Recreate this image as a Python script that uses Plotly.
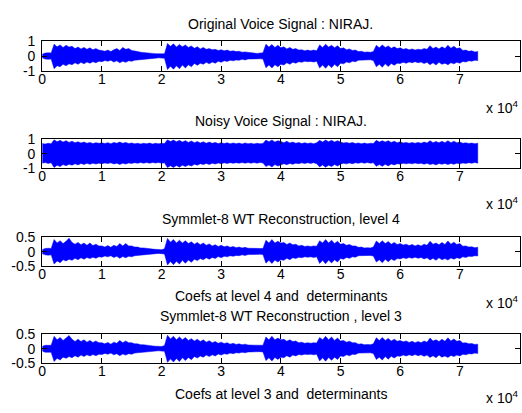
import plotly.graph_objects as go

# Envelope readings of each voice signal (upper / lower peak amplitude),
# taken every 500 samples from sample 0 to sample 73000.
ENV_STEP = 500

ORIG_HI = [
    0.12, 0.2, 0.22, 0.2, 0.8, 0.62, 0.75, 0.58, 0.72, 0.6,
    0.66, 0.5, 0.6, 0.48, 0.58, 0.45, 0.55, 0.42, 0.5, 0.4,
    0.38, 0.32, 0.4, 0.3, 0.42, 0.5, 0.38, 0.58, 0.45, 0.5,
    0.38, 0.32, 0.3, 0.26, 0.25, 0.22, 0.2, 0.18, 0.16, 0.14,
    0.13, 0.15, 0.85, 0.65, 0.82, 0.6, 0.78, 0.62, 0.75, 0.58,
    0.68, 0.52, 0.62, 0.48, 0.58, 0.45, 0.5, 0.42, 0.45, 0.38,
    0.42, 0.35, 0.4, 0.32, 0.35, 0.3, 0.32, 0.26, 0.28, 0.24,
    0.22, 0.2, 0.18, 0.2, 0.22, 0.8, 0.6, 0.78, 0.58, 0.72,
    0.55, 0.62, 0.48, 0.58, 0.45, 0.5, 0.4, 0.42, 0.36, 0.4,
    0.35, 0.4, 0.36, 0.75, 0.58, 0.8, 0.6, 0.72, 0.55, 0.7,
    0.5, 0.55, 0.42, 0.48, 0.38, 0.4, 0.3, 0.32, 0.26, 0.28,
    0.25, 0.3, 0.72, 0.55, 0.75, 0.58, 0.68, 0.52, 0.62, 0.5,
    0.55, 0.45, 0.5, 0.42, 0.48, 0.4, 0.46, 0.42, 0.5, 0.45,
    0.7, 0.5, 0.6, 0.48, 0.62, 0.5, 0.72, 0.52, 0.65, 0.5,
    0.55, 0.38, 0.4, 0.32, 0.35, 0.28, 0.3,
]
ORIG_LO = [
    -0.12, -0.2, -0.22, -0.2, -0.85, -0.65, -0.72, -0.55, -0.65, -0.52,
    -0.58, -0.45, -0.55, -0.42, -0.52, -0.4, -0.48, -0.38, -0.45, -0.35,
    -0.38, -0.3, -0.35, -0.28, -0.4, -0.32, -0.45, -0.35, -0.42, -0.32,
    -0.35, -0.28, -0.3, -0.24, -0.22, -0.2, -0.18, -0.16, -0.14, -0.12,
    -0.12, -0.15, -0.9, -0.68, -0.88, -0.65, -0.85, -0.6, -0.8, -0.58,
    -0.72, -0.5, -0.62, -0.48, -0.55, -0.42, -0.52, -0.4, -0.48, -0.35,
    -0.42, -0.32, -0.36, -0.28, -0.32, -0.26, -0.28, -0.22, -0.26, -0.2,
    -0.2, -0.18, -0.2, -0.18, -0.2, -0.78, -0.6, -0.8, -0.58, -0.72,
    -0.55, -0.6, -0.45, -0.55, -0.42, -0.48, -0.38, -0.42, -0.35, -0.38,
    -0.36, -0.4, -0.35, -0.8, -0.6, -0.82, -0.58, -0.78, -0.55, -0.72,
    -0.48, -0.52, -0.4, -0.45, -0.35, -0.38, -0.28, -0.3, -0.25, -0.26,
    -0.25, -0.3, -0.72, -0.55, -0.75, -0.52, -0.7, -0.5, -0.62, -0.48,
    -0.5, -0.42, -0.48, -0.4, -0.45, -0.38, -0.45, -0.4, -0.5, -0.42,
    -0.58, -0.45, -0.6, -0.42, -0.55, -0.48, -0.58, -0.45, -0.52, -0.42,
    -0.48, -0.36, -0.4, -0.32, -0.34, -0.28, -0.3,
]

NOISY_HI = [
    0.7, 0.66, 0.72, 0.68, 0.96, 0.82, 0.92, 0.8, 0.9, 0.78,
    0.86, 0.75, 0.82, 0.74, 0.8, 0.72, 0.78, 0.7, 0.76, 0.72,
    0.75, 0.7, 0.76, 0.69, 0.78, 0.72, 0.8, 0.72, 0.78, 0.7,
    0.74, 0.68, 0.72, 0.67, 0.72, 0.68, 0.73, 0.67, 0.72, 0.68,
    0.72, 0.7, 0.96, 0.84, 0.95, 0.82, 0.92, 0.8, 0.9, 0.78,
    0.88, 0.76, 0.84, 0.74, 0.82, 0.72, 0.8, 0.72, 0.78, 0.7,
    0.76, 0.7, 0.75, 0.68, 0.74, 0.69, 0.73, 0.67, 0.74, 0.68,
    0.72, 0.67, 0.72, 0.68, 0.71, 0.94, 0.82, 0.95, 0.8, 0.9,
    0.84, 0.76, 0.85, 0.74, 0.8, 0.72, 0.77, 0.7, 0.75, 0.7,
    0.74, 0.69, 0.75, 0.92, 0.8, 0.94, 0.82, 0.93, 0.8, 0.9,
    0.8, 0.74, 0.78, 0.72, 0.77, 0.7, 0.74, 0.68, 0.73, 0.68,
    0.72, 0.7, 0.92, 0.8, 0.9, 0.8, 0.9, 0.78, 0.86, 0.76,
    0.82, 0.74, 0.78, 0.72, 0.77, 0.72, 0.78, 0.72, 0.8, 0.74,
    0.9, 0.76, 0.84, 0.75, 0.85, 0.76, 0.9, 0.76, 0.86, 0.75,
    0.8, 0.72, 0.75, 0.7, 0.73, 0.69, 0.72,
]
NOISY_LO = [
    -0.66, -0.62, -0.68, -0.63, -0.96, -0.8, -0.9, -0.76, -0.84, -0.74,
    -0.8, -0.7, -0.78, -0.68, -0.75, -0.67, -0.74, -0.66, -0.72, -0.66,
    -0.7, -0.65, -0.69, -0.64, -0.72, -0.66, -0.75, -0.66, -0.72, -0.65,
    -0.68, -0.63, -0.67, -0.62, -0.66, -0.62, -0.66, -0.62, -0.65, -0.62,
    -0.66, -0.64, -0.97, -0.84, -0.97, -0.82, -0.94, -0.8, -0.9, -0.78,
    -0.86, -0.74, -0.8, -0.7, -0.76, -0.68, -0.75, -0.67, -0.72, -0.65,
    -0.7, -0.64, -0.68, -0.63, -0.67, -0.63, -0.66, -0.62, -0.66, -0.62,
    -0.66, -0.62, -0.66, -0.62, -0.65, -0.9, -0.78, -0.92, -0.76, -0.86,
    -0.78, -0.7, -0.77, -0.68, -0.74, -0.66, -0.7, -0.64, -0.69, -0.63,
    -0.68, -0.63, -0.7, -0.92, -0.78, -0.94, -0.8, -0.9, -0.76, -0.86,
    -0.73, -0.67, -0.71, -0.65, -0.7, -0.64, -0.67, -0.62, -0.66, -0.62,
    -0.66, -0.63, -0.88, -0.76, -0.88, -0.74, -0.85, -0.72, -0.78, -0.7,
    -0.73, -0.67, -0.71, -0.66, -0.71, -0.65, -0.7, -0.66, -0.73, -0.67,
    -0.76, -0.7, -0.78, -0.68, -0.74, -0.68, -0.76, -0.68, -0.74, -0.66,
    -0.71, -0.65, -0.68, -0.63, -0.67, -0.62, -0.66,
]

REC4_HI = [
    0.07, 0.11, 0.12, 0.11, 0.42, 0.3, 0.38, 0.28, 0.36, 0.47,
    0.32, 0.26, 0.32, 0.24, 0.3, 0.22, 0.3, 0.21, 0.26, 0.2,
    0.2, 0.16, 0.21, 0.15, 0.22, 0.18, 0.28, 0.2, 0.28, 0.2,
    0.2, 0.16, 0.16, 0.13, 0.13, 0.11, 0.1, 0.09, 0.08, 0.07,
    0.07, 0.1, 0.46, 0.33, 0.42, 0.3, 0.4, 0.3, 0.38, 0.28,
    0.34, 0.26, 0.32, 0.24, 0.3, 0.22, 0.27, 0.2, 0.24, 0.18,
    0.22, 0.17, 0.2, 0.15, 0.18, 0.14, 0.16, 0.13, 0.15, 0.12,
    0.12, 0.1, 0.1, 0.1, 0.11, 0.4, 0.3, 0.42, 0.3, 0.36,
    0.3, 0.32, 0.25, 0.3, 0.24, 0.26, 0.2, 0.22, 0.18, 0.2,
    0.18, 0.2, 0.19, 0.38, 0.3, 0.42, 0.3, 0.4, 0.28, 0.36,
    0.26, 0.28, 0.22, 0.25, 0.2, 0.2, 0.15, 0.16, 0.13, 0.14,
    0.13, 0.16, 0.37, 0.28, 0.38, 0.28, 0.35, 0.26, 0.32, 0.25,
    0.28, 0.23, 0.26, 0.21, 0.25, 0.2, 0.24, 0.2, 0.26, 0.22,
    0.36, 0.26, 0.3, 0.24, 0.32, 0.25, 0.37, 0.26, 0.33, 0.25,
    0.28, 0.19, 0.2, 0.16, 0.17, 0.14, 0.15,
]
REC4_LO = [
    -0.07, -0.11, -0.12, -0.11, -0.43, -0.32, -0.38, -0.28, -0.32, -0.26,
    -0.3, -0.23, -0.28, -0.21, -0.26, -0.2, -0.24, -0.19, -0.23, -0.18,
    -0.19, -0.15, -0.18, -0.14, -0.2, -0.16, -0.23, -0.17, -0.21, -0.16,
    -0.18, -0.14, -0.15, -0.12, -0.11, -0.1, -0.09, -0.08, -0.07, -0.06,
    -0.06, -0.08, -0.46, -0.34, -0.45, -0.33, -0.43, -0.3, -0.4, -0.29,
    -0.37, -0.26, -0.31, -0.24, -0.28, -0.21, -0.26, -0.2, -0.24, -0.17,
    -0.21, -0.16, -0.18, -0.14, -0.16, -0.13, -0.14, -0.11, -0.13, -0.1,
    -0.1, -0.09, -0.1, -0.09, -0.1, -0.4, -0.3, -0.41, -0.29, -0.36,
    -0.28, -0.3, -0.23, -0.28, -0.21, -0.24, -0.19, -0.21, -0.18, -0.19,
    -0.18, -0.2, -0.18, -0.41, -0.3, -0.42, -0.29, -0.39, -0.28, -0.36,
    -0.24, -0.26, -0.2, -0.23, -0.18, -0.19, -0.14, -0.15, -0.13, -0.13,
    -0.13, -0.15, -0.36, -0.28, -0.38, -0.26, -0.35, -0.25, -0.31, -0.24,
    -0.25, -0.21, -0.24, -0.2, -0.23, -0.19, -0.23, -0.2, -0.25, -0.21,
    -0.29, -0.23, -0.3, -0.21, -0.28, -0.24, -0.29, -0.22, -0.26, -0.21,
    -0.24, -0.18, -0.2, -0.16, -0.17, -0.14, -0.15,
]

REC3_HI = [
    0.08, 0.12, 0.12, 0.12, 0.43, 0.31, 0.39, 0.29, 0.37, 0.46,
    0.33, 0.25, 0.33, 0.25, 0.31, 0.23, 0.29, 0.22, 0.27, 0.21,
    0.21, 0.17, 0.22, 0.16, 0.23, 0.19, 0.29, 0.21, 0.27, 0.21,
    0.21, 0.17, 0.17, 0.14, 0.14, 0.12, 0.11, 0.1, 0.09, 0.08,
    0.08, 0.11, 0.47, 0.34, 0.43, 0.31, 0.41, 0.31, 0.39, 0.29,
    0.35, 0.27, 0.33, 0.25, 0.31, 0.23, 0.28, 0.21, 0.25, 0.19,
    0.23, 0.18, 0.21, 0.16, 0.19, 0.15, 0.17, 0.14, 0.16, 0.13,
    0.13, 0.11, 0.11, 0.11, 0.12, 0.41, 0.31, 0.43, 0.31, 0.37,
    0.31, 0.33, 0.26, 0.31, 0.25, 0.27, 0.21, 0.23, 0.19, 0.21,
    0.19, 0.21, 0.2, 0.39, 0.31, 0.43, 0.31, 0.41, 0.29, 0.37,
    0.27, 0.29, 0.23, 0.26, 0.21, 0.21, 0.16, 0.17, 0.14, 0.15,
    0.14, 0.17, 0.38, 0.29, 0.39, 0.29, 0.36, 0.27, 0.33, 0.26,
    0.29, 0.24, 0.27, 0.22, 0.26, 0.21, 0.25, 0.21, 0.27, 0.23,
    0.37, 0.27, 0.31, 0.25, 0.33, 0.26, 0.38, 0.27, 0.34, 0.26,
    0.29, 0.2, 0.21, 0.17, 0.18, 0.15, 0.16,
]
REC3_LO = [
    -0.08, -0.12, -0.12, -0.12, -0.44, -0.33, -0.39, -0.29, -0.33, -0.27,
    -0.31, -0.24, -0.29, -0.22, -0.27, -0.21, -0.25, -0.2, -0.24, -0.19,
    -0.2, -0.16, -0.19, -0.15, -0.21, -0.17, -0.24, -0.18, -0.22, -0.17,
    -0.19, -0.15, -0.16, -0.13, -0.12, -0.11, -0.1, -0.09, -0.08, -0.07,
    -0.07, -0.09, -0.47, -0.35, -0.46, -0.34, -0.44, -0.31, -0.41, -0.3,
    -0.38, -0.27, -0.32, -0.25, -0.29, -0.22, -0.27, -0.21, -0.25, -0.18,
    -0.22, -0.17, -0.19, -0.15, -0.17, -0.14, -0.15, -0.12, -0.14, -0.11,
    -0.11, -0.1, -0.11, -0.1, -0.11, -0.41, -0.31, -0.42, -0.3, -0.37,
    -0.29, -0.31, -0.24, -0.29, -0.22, -0.25, -0.2, -0.22, -0.19, -0.2,
    -0.19, -0.21, -0.19, -0.42, -0.31, -0.43, -0.3, -0.4, -0.29, -0.37,
    -0.25, -0.27, -0.21, -0.24, -0.19, -0.2, -0.15, -0.16, -0.14, -0.14,
    -0.14, -0.16, -0.37, -0.29, -0.39, -0.27, -0.36, -0.26, -0.32, -0.25,
    -0.26, -0.22, -0.25, -0.21, -0.24, -0.2, -0.24, -0.21, -0.26, -0.22,
    -0.3, -0.24, -0.31, -0.22, -0.29, -0.25, -0.3, -0.23, -0.27, -0.22,
    -0.25, -0.19, -0.21, -0.17, -0.18, -0.15, -0.16,
]

TITLES = [
    "Original Voice Signal : NIRAJ.",
    "Noisy Voice Signal : NIRAJ.",
    "Symmlet-8 WT Reconstruction, level 4",
    "Symmlet-8 WT Reconstruction , level 3",
]
XLABELS = [None, None,
           "Coefs at level 4 and\u00a0 determinants",
           "Coefs at level 3 and\u00a0 determinants"]
X_TICKS = [0, 10000, 20000, 30000, 40000, 50000, 60000, 70000, 80000]
X_TICKTEXT = ["0", "1", "2", "3", "4", "5", "6", "7", "8"]
Y_TICKS = [[-1, 0, 1], [-1, 0, 1], [-0.5, 0, 0.5], [-0.5, 0, 0.5]]
Y_TICKTEXT = [["-1", "0", "1"], ["-1", "0", "1"],
              ["-0.5", "0", "0.5"], ["-0.5", "0", "0.5"]]
Y_RANGES = [[-1, 1], [-1, 1], [-0.5, 0.5], [-0.5, 0.5]]

SERIES = [(ORIG_HI, ORIG_LO), (NOISY_HI, NOISY_LO),
          (REC4_HI, REC4_LO), (REC3_HI, REC3_LO)]

W, H = 522, 413
FONT = "Liberation Sans, Arial, Helvetica, sans-serif"
BLUE = "#0000ff"

# axes boxes in pixels: (top, bottom)
X_LEFT, X_RIGHT = 38.5, 519.5
BOXES = [(34.5, 65.5), (136.5, 166.5), (238.5, 268.5), (339.5, 369.5)]
TITLE_Y = [17, 118, 219, 320.5]
XLABEL_Y = [None, None, 300, 402]
EXP_Y = [103, 203, 306, 405]
X_LABEL_GAP = -5   # pulls the x tick labels up against the inside ticks

fig = go.Figure()
layout = dict(
    width=W, height=H,
    margin=dict(l=0, r=0, t=0, b=0),
    paper_bgcolor="white", plot_bgcolor="white",
    showlegend=False,
    font=dict(family=FONT, size=14, color="black"),
)
annotations = []

for i, (hi, lo) in enumerate(SERIES):
    n = i + 1
    sfx = "" if n == 1 else str(n)
    pos = [k * ENV_STEP for k in range(len(hi))]
    fig.add_trace(go.Scatter(
        x=pos + pos[::-1], y=hi + lo[::-1],
        mode="lines", fill="toself", fillcolor=BLUE,
        line=dict(color=BLUE, width=0.5),
        xaxis="x" + sfx, yaxis="y" + sfx, hoverinfo="skip",
    ))
    top, bot = BOXES[i]
    layout["xaxis" + sfx] = dict(
        domain=[X_LEFT / W, X_RIGHT / W], anchor="y" + sfx,
        range=[0, 80000], tickvals=X_TICKS, ticktext=X_TICKTEXT,
        ticks="inside", ticklen=5, tickcolor="black", mirror="ticks",
        showline=True, linecolor="black", linewidth=1,
        showgrid=False, zeroline=False, ticklabelstandoff=X_LABEL_GAP,
        tickfont=dict(family=FONT, size=14, color="black"),
    )
    layout["yaxis" + sfx] = dict(
        domain=[1 - bot / H, 1 - top / H], anchor="x" + sfx,
        range=Y_RANGES[i], tickvals=Y_TICKS[i], ticktext=Y_TICKTEXT[i],
        ticks="inside", ticklen=5, tickcolor="black", mirror="ticks",
        showline=True, linecolor="black", linewidth=1,
        showgrid=False, zeroline=False, ticklabelstandoff=3,
        tickfont=dict(family=FONT, size=14, color="black"),
    )
    xc = (X_LEFT + X_RIGHT) / 2 / W
    annotations.append(dict(
        text=TITLES[i], xref="paper", yref="paper",
        x=xc, y=1 - TITLE_Y[i] / H, xanchor="center", yanchor="middle",
        showarrow=False, font=dict(family=FONT, size=14, color="black"),
    ))
    if XLABELS[i]:
        annotations.append(dict(
            text=XLABELS[i], xref="paper", yref="paper",
            x=xc, y=1 - XLABEL_Y[i] / H, xanchor="center", yanchor="middle",
            showarrow=False, font=dict(family=FONT, size=14, color="black"),
        ))
    annotations.append(dict(
        text="x 10<sup>4</sup>", xref="paper", yref="paper",
        x=520 / W, y=1 - EXP_Y[i] / H, xanchor="right", yanchor="middle",
        showarrow=False, font=dict(family=FONT, size=14, color="black"),
    ))

layout["annotations"] = annotations
fig.update_layout(**layout)
fig.write_html("out.html")
